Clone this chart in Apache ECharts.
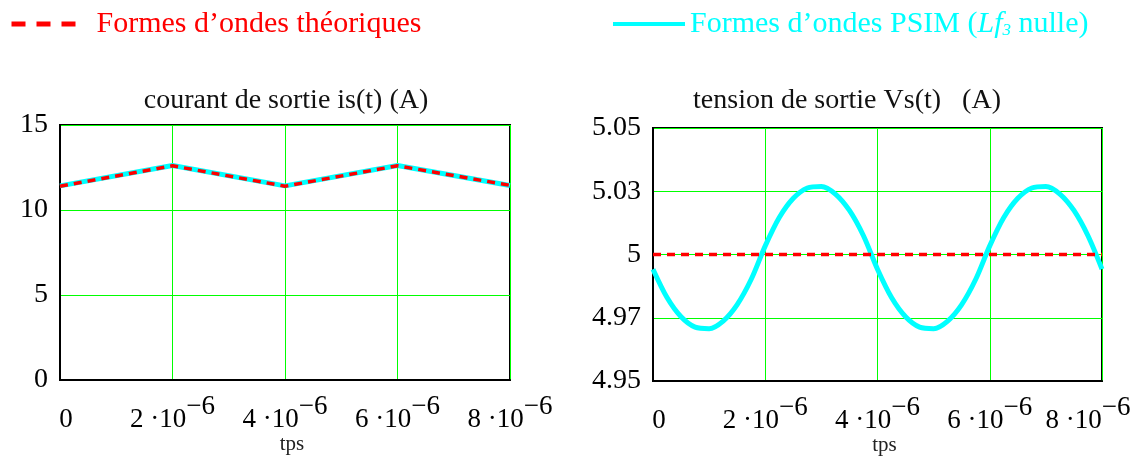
<!DOCTYPE html>
<html>
<head>
<meta charset="utf-8">
<script src="https://cdn.jsdelivr.net/npm/echarts@6/dist/echarts.min.js"></script>
<style>
  html, body { margin: 0; padding: 0; background: #fff; }
  #chart { width: 1142px; height: 460px; }
</style>
</head>
<body>
<div id="chart"></div>
<script>
    // temps en microsecondes (axe gradué en 10^-6 s)
    const timeUs = [0, 0.25, 0.5, 0.75, 1, 1.25, 1.5, 1.75, 2, 2.25, 2.5, 2.75, 3, 3.25, 3.5, 3.75,
        4, 4.25, 4.5, 4.75, 5, 5.25, 5.5, 5.75, 6, 6.25, 6.5, 6.75, 7, 7.25, 7.5, 7.75, 8];

    // courant de sortie : sommets du triangle
    const courantTime = [0, 2, 4, 6, 8];
    const courantTheorique = [11.4, 12.6, 11.4, 12.6, 11.45];
    const courantPsim = [11.42, 12.62, 11.42, 12.62, 11.44];

    // tension de sortie
    const tensionTheoTime = [0, 8];
    const tensionTheorique = [5, 5];
    const tensionPsim = [4.9942, 4.9830, 4.9754, 4.9713, 4.9707, 4.9737, 4.9802, 4.9902,
        5.0034, 5.0146, 5.0222, 5.0263, 5.0269, 5.0239, 5.0174, 5.0074,
        4.9942, 4.9830, 4.9754, 4.9713, 4.9707, 4.9737, 4.9802, 4.9902,
        5.0034, 5.0146, 5.0222, 5.0263, 5.0269, 5.0239, 5.0174, 5.0074, 4.9942];

    const xTickLabels = ['0', '2', '4', '6', '8'];
    const yTickLabelsI = ['0', '5', '10', '15'];
    const yTickLabelsV = ['4.95', '4.97', '5', '5.03', '5.05'];

    const nameTheo = 'Formes d’ondes théoriques';
    const namePsim = 'Formes d’ondes PSIM';

    const serif = '"Liberation Serif", "Times New Roman", serif';
    const RED = '#ff0000';
    const CYAN = '#00ffff';
    const GREEN = '#00ff00';

    function pairs(xs, ys) {
        return xs.map((x, i) => [x, ys[i]]);
    }

    function makeX(gridIndex, lastShift) {
        return {
            type: 'value', gridIndex: gridIndex,
            min: 0, max: 8, interval: 2,
            name: 'tps', nameLocation: 'middle', nameGap: 54, nameMoveOverlap: false,
            nameTextStyle: { fontFamily: serif, fontSize: 21, color: '#222', padding: [0, 0, 0, 14] },
            axisLine: { show: true, onZero: false, lineStyle: { color: '#000', width: 2 } },
            axisTick: { show: false },
            splitLine: { show: true, lineStyle: { color: GREEN, width: 1 } },
            axisLabel: {
                margin: 12,
                formatter: function (value, index) {
                    const t = xTickLabels[index];
                    if (t === '0') return '{z|0}';
                    if (index === xTickLabels.length - 1) return '{n|' + t + ' ·10}{e|−6}';
                    return '{n|' + t + ' ·10}{s|−6}';
                },
                rich: {
                    z: { fontFamily: serif, fontSize: 27, color: '#000', padding: [14, 0, 0, 12] },
                    n: { fontFamily: serif, fontSize: 27, color: '#000', padding: [14, 0, 0, 0] },
                    s: { fontFamily: serif, fontSize: 27, color: '#000', padding: [0, 0, 12, 0] },
                    e: { fontFamily: serif, fontSize: 27, color: '#000', padding: [0, lastShift, 12, 0] }
                }
            }
        };
    }

    function makeY(gridIndex, min, max, interval, labels) {
        return {
            type: 'value', gridIndex: gridIndex,
            min: min, max: max, interval: interval,
            axisLine: { show: true, lineStyle: { color: '#000', width: 2 } },
            axisTick: { show: false },
            splitLine: { show: true, lineStyle: { color: GREEN, width: 1 } },
            axisLabel: {
                margin: 12,
                fontFamily: serif, fontSize: 28, color: '#000',
                formatter: function (value, index) { return labels[index]; }
            }
        };
    }

    const chart = echarts.init(document.getElementById('chart'));

    const option = {
        animation: false,
        backgroundColor: '#fff',
        title: [
            {
                text: 'courant de sortie is(t) (A)',
                left: 281, top: 82, textAlign: 'center',
                textStyle: { fontFamily: serif, fontSize: 28, fontWeight: 'normal', color: '#111' }
            },
            {
                text: 'tension de sortie Vs(t)   (A)',
                left: 842, top: 82, textAlign: 'center',
                textStyle: { fontFamily: serif, fontSize: 28, fontWeight: 'normal', color: '#111' }
            }
        ],
        legend: [
            {
                data: [nameTheo],
                left: 4, top: 4,
                itemWidth: 66, itemHeight: 24,
                itemStyle: { color: 'rgba(0,0,0,0)', borderWidth: 0 },
                lineStyle: { width: 5, type: [14, 11] },
                textStyle: { fontFamily: serif, fontSize: 30, color: RED, padding: [0, 0, 0, 14] }
            },
            {
                data: [namePsim],
                left: 606, top: 4,
                itemWidth: 72, itemHeight: 24,
                itemStyle: { color: 'rgba(0,0,0,0)', borderWidth: 0 },
                lineStyle: { width: 4 },
                formatter: function () {
                    return '{a|' + namePsim + ' (}{i|Lf}{b|3}{a| nulle)}';
                },
                textStyle: {
                    color: CYAN,
                    rich: {
                        a: { fontFamily: serif, fontSize: 30, color: CYAN },
                        i: { fontFamily: serif, fontSize: 30, color: CYAN, fontStyle: 'italic' },
                        b: { fontFamily: serif, fontSize: 17, color: CYAN, fontStyle: 'italic', padding: [14, 0, 0, 0] }
                    }
                }
            }
        ],
        grid: [
            { left: 60, top: 125, width: 450, height: 255, show: true, borderColor: '#000', borderWidth: 2, outerBoundsMode: 'none', containLabel: false },
            { left: 653, top: 128, width: 449, height: 253, show: true, borderColor: '#000', borderWidth: 2, outerBoundsMode: 'none', containLabel: false }
        ],
        xAxis: [makeX(0, 0), makeX(1, 28)],
        yAxis: [
            makeY(0, 0, 15, 5, yTickLabelsI),
            makeY(1, 4.95, 5.05, 0.025, yTickLabelsV)
        ],
        series: [
            {
                name: namePsim, type: 'line', xAxisIndex: 0, yAxisIndex: 0,
                data: pairs(courantTime, courantPsim), symbol: 'none',
                lineStyle: { color: CYAN, width: 5 }, itemStyle: { color: CYAN }
            },
            {
                name: nameTheo, type: 'line', xAxisIndex: 0, yAxisIndex: 0,
                data: pairs(courantTime, courantTheorique), symbol: 'none',
                lineStyle: { color: RED, width: 3.5, type: [8, 6] }, itemStyle: { color: RED }
            },
            {
                name: namePsim, type: 'line', xAxisIndex: 1, yAxisIndex: 1,
                data: pairs(timeUs, tensionPsim), symbol: 'none', smooth: 0.3,
                lineStyle: { color: CYAN, width: 5 }, itemStyle: { color: CYAN }
            },
            {
                name: nameTheo, type: 'line', xAxisIndex: 1, yAxisIndex: 1,
                data: pairs(tensionTheoTime, tensionTheorique), symbol: 'none',
                lineStyle: { color: RED, width: 3.5, type: [8, 6] }, itemStyle: { color: RED }
            }
        ]
    };

    chart.setOption(option);
</script>
</body>
</html>
